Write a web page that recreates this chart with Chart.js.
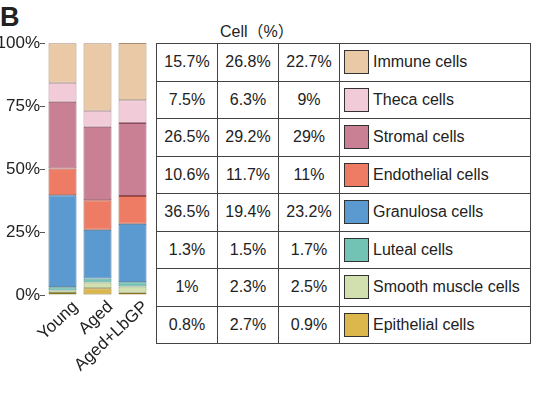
<!DOCTYPE html>
<html>
<head>
<meta charset="utf-8">
<script src="https://cdn.jsdelivr.net/npm/chart.js@4"></script>
<style>
  body { margin: 0; background: #fff; font-family: "Liberation Sans", Arial, sans-serif; color: #222; }
  #wrap { position: relative; width: 543px; height: 394px; overflow: hidden; }
  #chart { position: absolute; left: 0; top: 0; }
  #panel { position: absolute; left: 0; top: 2px; font-size: 27px; font-weight: bold; }
  #title { position: absolute; left: 220px; top: 18px; font-size: 16px; font-family: "Liberation Sans", "Noto Sans CJK SC", sans-serif; }
  table { position: absolute; left: 156px; top: 43px; border-collapse: collapse; font-size: 16px; }
  td { border: 1.5px solid #444; height: 36.5px; padding: 0; }
  td.num { width: 60px; text-align: center; }
  td.leg { width: 190px; white-space: nowrap; }
  .sw { display: inline-block; width: 23px; height: 22px; border: 1.5px solid #333; vertical-align: middle; margin: 0 4px 0 4px; }
  .lt { vertical-align: middle; }
</style>
</head>
<body>
<div id="wrap">
  <div id="panel">B</div>
  <canvas id="chart" width="155" height="394"></canvas>
  <div id="title">Cell（%）</div>
  <table id="tbl"></table>
</div>
<script>
const groups = ['Young', 'Aged', 'Aged+LbGP']

// listed top to bottom as in the table
const cellTypes = ['Immune cells', 'Theca cells', 'Stromal cells', 'Endothelial cells',
  'Granulosa cells', 'Luteal cells', 'Smooth muscle cells', 'Epithelial cells']

const immune = [15.7, 26.8, 22.7]
const theca = [7.5, 6.3, 9]
const stromal = [26.5, 29.2, 29]
const endothelial = [10.6, 11.7, 11]
const granulosa = [36.5, 19.4, 23.2]
const luteal = [1.3, 1.5, 1.7]
const smoothMuscle = [1, 2.3, 2.5]
const epithelial = [0.8, 2.7, 0.9]

const yTicks = [0, 25, 50, 75, 100]

const values = [immune, theca, stromal, endothelial, granulosa, luteal, smoothMuscle, epithelial]
const fills = ['#e9c9a6', '#f2cbd9', '#c98094', '#ee7b64', '#5a9ad0', '#72c3b3', '#d2dfae', '#dcb84c']
const edges = ['#a88a70', '#b08c98', '#8a4a5c', '#a84a38', '#2f6690', '#3e8a7c', '#8c9a6a', '#8c7420']

// stack from the bottom: epithelial first
const datasets = cellTypes.map((name, i) => ({
  label: name,
  data: values[i],
  backgroundColor: fills[i],
  borderColor: edges[i],
  borderWidth: 1,
  borderSkipped: false,
})).reverse()

new Chart(document.getElementById('chart'), {
  type: 'bar',
  data: { labels: groups, datasets },
  options: {
    responsive: false,
    animation: false,
    layout: { padding: { top: 43, right: 5, left: 0, bottom: 0 } },
    datasets: { bar: { barPercentage: 0.8, categoryPercentage: 1 } },
    scales: {
      x: {
        stacked: true,
        grid: { display: false },
        border: { display: false },
        ticks: {
          color: '#222', font: { family: 'Liberation Sans', size: 17 },
          autoSkip: false, maxRotation: 43, minRotation: 43, padding: -6, labelOffset: 13
        },
        afterFit: (s) => { s.height = 394 - 295 }
      },
      y: {
        stacked: true,
        min: 0,
        max: 100,
        afterBuildTicks: (s) => { s.ticks = yTicks.map((v) => ({ value: v })) },
        grid: { drawOnChartArea: false, drawTicks: true, tickLength: 5, color: '#555' },
        border: { display: false },
        ticks: { color: '#222', font: { family: 'Liberation Sans', size: 17 }, padding: 0, callback: (v) => v + '%' },
        afterFit: (s) => { s.width = 45 }
      }
    },
    plugins: { legend: { display: false }, tooltip: { enabled: false } }
  }
})

// table of values with legend column
const tbl = document.getElementById('tbl')
cellTypes.forEach((name, i) => {
  const tr = document.createElement('tr')
  values[i].forEach((v) => {
    const td = document.createElement('td')
    td.className = 'num'
    td.textContent = v + '%'
    tr.appendChild(td)
  })
  const leg = document.createElement('td')
  leg.className = 'leg'
  leg.innerHTML = '<span class="sw" style="background:' + fills[i] + '"></span><span class="lt">' + name + '</span>'
  tr.appendChild(leg)
  tbl.appendChild(tr)
})
</script>
</body>
</html>
